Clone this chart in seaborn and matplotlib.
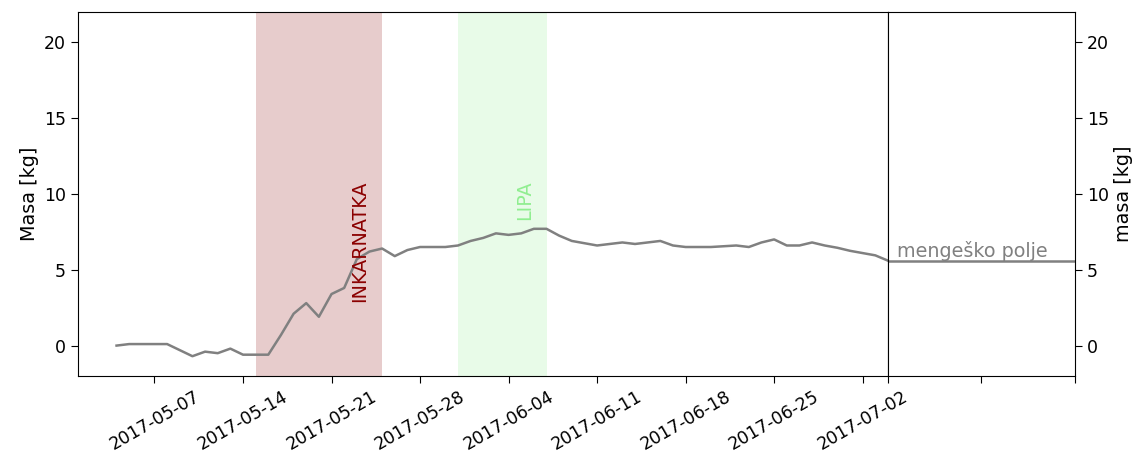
import numpy as np
import pandas as pd
import matplotlib
matplotlib.use("Agg")
import matplotlib.pyplot as plt
import matplotlib.dates as mdates
import seaborn as sns

# daily hive mass
start_date = "2017-05-04"
masa = [0.0, 0.1, 0.1, 0.1, 0.1, -0.3, -0.7, -0.4, -0.5, -0.2,
        -0.6, -0.6, -0.6, 0.7, 2.1, 2.8, 1.9, 3.4, 3.8, 5.7,
        6.2, 6.4, 5.9, 6.3, 6.5, 6.5, 6.5, 6.6, 6.9, 7.1,
        7.4, 7.3, 7.4, 7.7, 7.7, 7.25, 6.9, 6.75, 6.6, 6.7,
        6.8, 6.7, 6.8, 6.9, 6.6, 6.5, 6.5, 6.5, 6.55, 6.6,
        6.5, 6.8, 7.0, 6.6, 6.6, 6.8, 6.6, 6.45, 6.25, 6.1,
        5.95, 5.6]

# flowering periods
pasa_imena = ["INKARNATKA", "LIPA"]
pasa_od = ["2017-05-15", "2017-05-31"]
pasa_do = ["2017-05-25", "2017-06-07"]
pasa_barve = ["darkred", "lightgreen"]
pasa_alpha = [0.2, 0.2]

lokacija = "mengeško polje"

TICK_FS = 12.5
TXT_FS = 13.75

df = pd.DataFrame({
    "Datum": pd.date_range(start_date, periods=len(masa), freq="D"),
    "Masa": masa,
})

fig = plt.figure(figsize=(11.4, 4.59), dpi=100)
ax = fig.add_axes([0.0684, 0.181, 0.7105, 0.793])
ax2 = fig.add_axes([0.7789, 0.181, 0.1640, 0.793], sharey=ax)

# main mass curve
sns.lineplot(data=df, x="Datum", y="Masa", color="gray", linewidth=1.8, ax=ax)

for ime, od, do, barva, a in zip(pasa_imena, pasa_od, pasa_do, pasa_barve, pasa_alpha):
    od = pd.Timestamp(od)
    do = pd.Timestamp(do)
    ax.axvspan(od, do, color=barva, alpha=a, lw=0)
    ax.text(do - pd.Timedelta(days=1), 10.9, ime, rotation=90, color=barva,
            ha="right", va="top", fontsize=TXT_FS)

# left axis: leave ~3 days margin on the left, end at the last sample
ax.set_xlim(df["Datum"].iloc[0] - pd.Timedelta(days=3.05), df["Datum"].iloc[-1])
ax.set_ylim(-2, 22)
ax.xaxis.set_major_locator(mdates.WeekdayLocator(byweekday=mdates.SU))
ax.xaxis.set_major_formatter(mdates.DateFormatter("%Y-%m-%d"))
plt.setp(ax.get_xticklabels(), rotation=30, ha="center", fontsize=TICK_FS)
ax.tick_params(axis="y", labelsize=TICK_FS)
ax.tick_params(length=5)
ax.set_xlabel("")
ax.set_ylabel("Masa [kg]", fontsize=TXT_FS)

# right panel: last value extended, with the location name
ax2.axhline(masa[-1], color="gray", linewidth=1.8)
ax2.text(0.05, masa[-1], lokacija, color="gray", ha="left", va="bottom", fontsize=TXT_FS)
ax2.set_xlim(0, 1)
ax2.set_xticks([0, 0.5, 1])
ax2.set_xticklabels([])
ax2.yaxis.tick_right()
ax2.yaxis.set_label_position("right")
ax2.tick_params(axis="y", labelsize=TICK_FS)
ax2.tick_params(length=5)
ax2.set_ylabel("masa [kg]", fontsize=TXT_FS)

fig.savefig("out.png", dpi=100)
